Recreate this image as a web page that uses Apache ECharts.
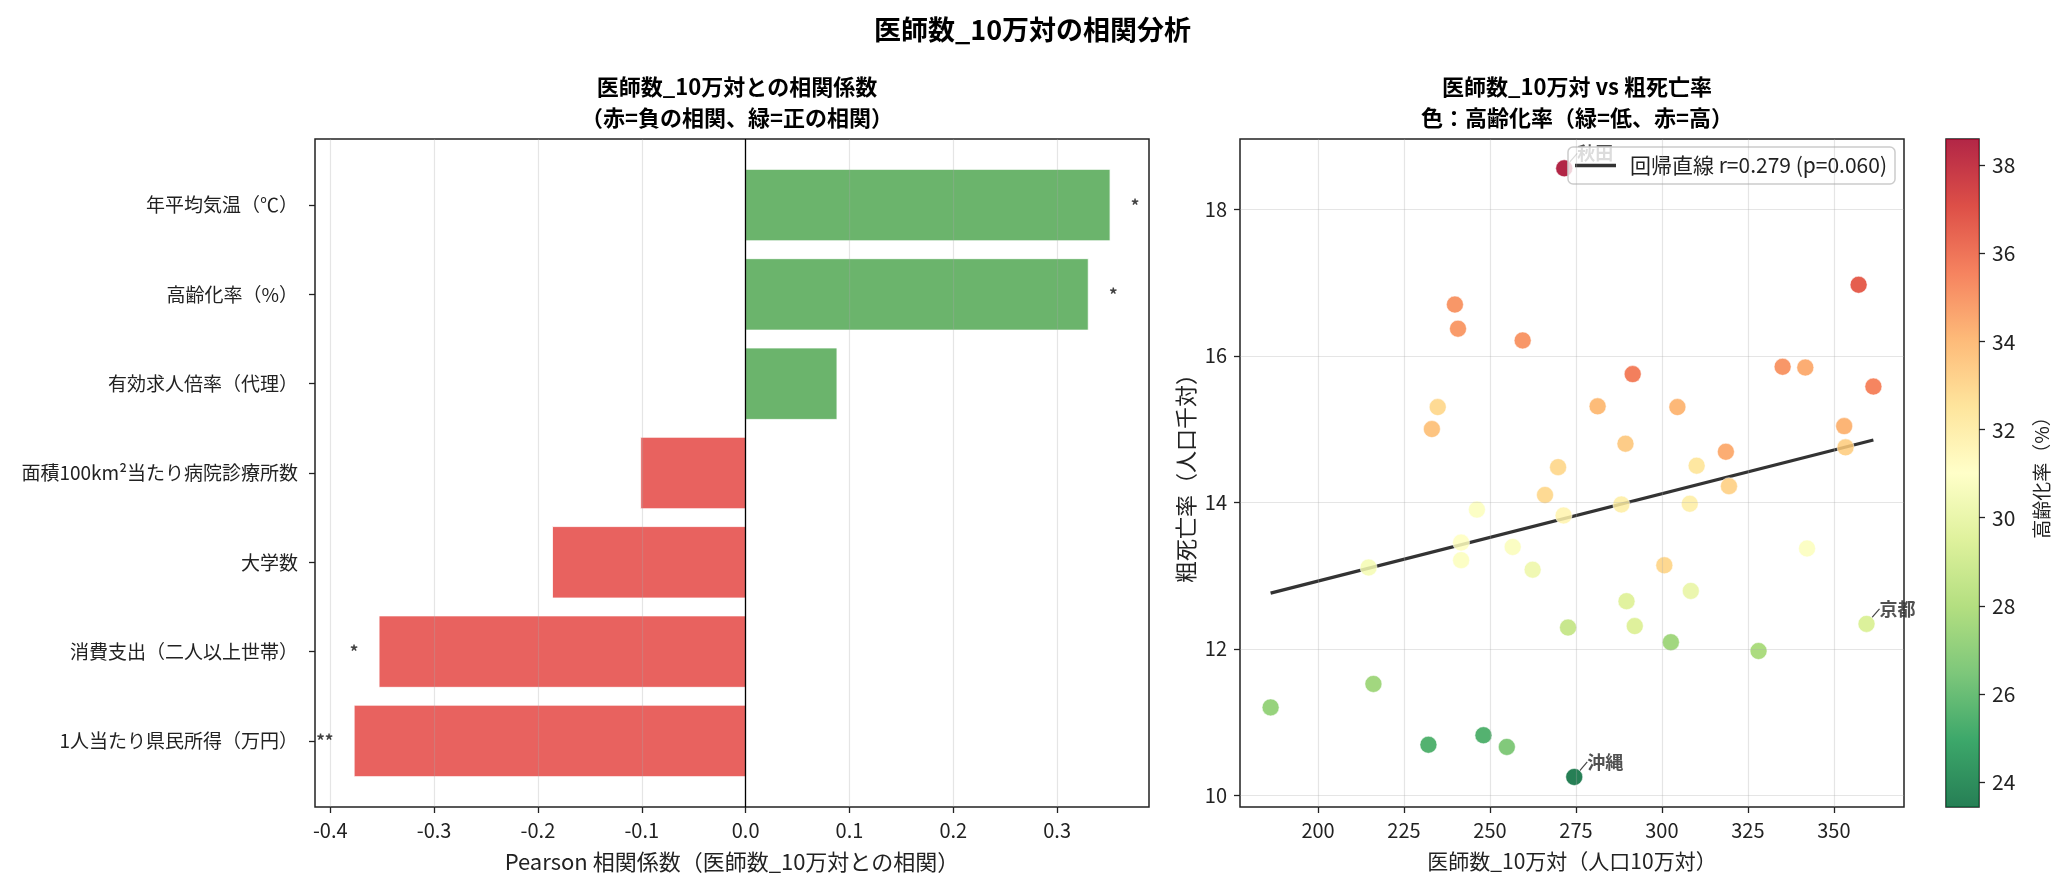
<!DOCTYPE html>
<html>
<head>
<meta charset="UTF-8">
<title>医師数_10万対の相関分析</title>
<style>
  html, body { margin: 0; padding: 0; background: #fff; }
  #chart { width: 2065px; height: 889px; }
</style>
</head>
<body>
<div id="chart"></div>
<script src="https://cdn.jsdelivr.net/npm/echarts@6/dist/echarts.min.js"></script>
<script>
// 左：相関係数（下から上の順）
var categories = ['1人当たり県民所得（万円）', '消費支出（二人以上世帯）', '大学数', '面積100km²当たり病院診療所数', '有効求人倍率（代理）', '高齢化率（%）', '年平均気温（℃）'];
var corrValues = [-0.377, -0.353, -0.186, -0.101, 0.088, 0.330, 0.351];
var sigMarks = ['**', '*', '', '', '', '*', '*'];
var corrTicks = [-0.4, -0.3, -0.2, -0.1, 0.0, 0.1, 0.2, 0.3];

// 右：散布図（医師数_10万対, 粗死亡率, 高齢化率）
var doctors = [271.6, 239.8, 240.7, 259.5, 234.8, 233.1, 269.8, 357.2, 291.5, 281.3,
               304.5, 335.1, 341.7, 361.5, 353.0, 353.4, 289.4, 318.6, 310.1, 266.0,
               246.2, 271.4, 241.6, 241.6, 214.7, 256.6, 262.4, 272.7, 216.1, 186.2,
               232.1, 248.1, 254.9, 274.5, 319.5, 308.1, 288.2, 342.2, 300.7, 308.4,
               289.7, 292.1, 302.6, 328.1, 359.5];
var deathRate = [18.56, 16.70, 16.37, 16.21, 15.30, 15.00, 14.48, 16.97, 15.75, 15.31,
                 15.30, 15.85, 15.84, 15.58, 15.04, 14.75, 14.80, 14.69, 14.50, 14.10,
                 13.90, 13.82, 13.45, 13.21, 13.11, 13.39, 13.08, 12.29, 11.52, 11.20,
                 10.69, 10.82, 10.66, 10.25, 14.22, 13.98, 13.97, 13.37, 13.14, 12.79,
                 12.65, 12.31, 12.09, 11.97, 12.34];
var agingRate = [38.6, 35.0, 34.9, 35.0, 32.9, 33.7, 32.9, 36.6, 35.7, 34.0,
                 34.1, 35.0, 34.4, 35.5, 34.2, 33.2, 33.4, 34.4, 32.4, 32.9,
                 30.9, 31.6, 31.0, 30.9, 30.6, 30.8, 30.3, 28.7, 27.5, 27.2,
                 25.5, 25.5, 26.6, 23.43, 33.1, 31.9, 31.9, 30.9, 33.0, 30.1,
                 29.6, 29.5, 27.5, 27.8, 29.4];
var pointNames = ['秋田', '', '', '', '', '', '', '', '', '',
                  '', '', '', '', '', '', '', '', '', '',
                  '', '', '', '', '', '', '', '', '', '',
                  '', '', '', '沖縄', '', '', '', '', '', '',
                  '', '', '', '', '京都'];
var lineX = [186.2, 361.5];
var lineY = [12.76, 14.85];
var lineName = '回帰直線 r=0.279 (p=0.060)';
var doctorTicks = [200, 225, 250, 275, 300, 325, 350];
var deathTicks = [10, 12, 14, 16, 18];
var agingTicks = [24, 26, 28, 30, 32, 34, 36, 38];
var agingMin = 23.43, agingMax = 38.6;

// RdYlGn_r
var rdylgnR = ['#006837', '#1a9850', '#66bd63', '#a6d96a', '#d9ef8b', '#ffffbf',
               '#fee08b', '#fdae61', '#f46d43', '#d73027', '#a50026'];

var FONT = '"Noto Sans CJK JP", "Noto Sans", sans-serif';
var gridLineColor = 'rgba(170,170,170,0.3)';

function gridMark(axisKey, values) {
    return values.map(function (v) {
        var d = {}; d[axisKey] = v; return d;
    });
}

var chart = echarts.init(document.getElementById('chart'), null, {renderer: 'canvas'});

var option = {
    backgroundColor: '#fff',
    animation: false,
    textStyle: {fontFamily: FONT},
    title: [
        {text: '医師数_10万対の相関分析', left: 'center', top: 11,
         textStyle: {fontSize: 27, fontWeight: 'bold', color: '#000', fontFamily: FONT}},
        {text: '医師数_10万対との相関係数\n（赤=負の相関、緑=正の相関）', left: 732, top: 66, textAlign: 'center',
         textStyle: {fontSize: 22, fontWeight: 'bold', color: '#000', lineHeight: 31, fontFamily: FONT}},
        {text: '医師数_10万対 vs 粗死亡率\n色：高齢化率（緑=低、赤=高）', left: 1572, top: 66, textAlign: 'center',
         textStyle: {fontSize: 22, fontWeight: 'bold', color: '#000', lineHeight: 31, fontFamily: FONT}}
    ],
    legend: {
        data: [{name: lineName, icon: 'rect'}],
        right: 170, top: 147,
        orient: 'vertical',
        backgroundColor: 'rgba(255,255,255,0.8)',
        borderColor: '#cccccc', borderWidth: 1.5, borderRadius: 5,
        padding: [8, 8, 8, 7],
        itemWidth: 41, itemHeight: 3.5,
        textStyle: {fontSize: 21, color: '#222', fontFamily: FONT, padding: [0, 0, 0, 9]}
    },
    visualMap: {
        show: false, type: 'continuous', seriesIndex: 3, dimension: 2,
        min: agingMin, max: agingMax,
        inRange: {color: rdylgnR}
    },
    grid: [
        {left: 315, top: 139, width: 834, height: 668, show: true, borderColor: '#222', borderWidth: 1.5,
         containLabel: false, outerBoundsMode: 'none'},
        {left: 1240, top: 139, width: 664, height: 668, show: true, borderColor: '#222', borderWidth: 1.5,
         containLabel: false, outerBoundsMode: 'none'},
        {left: 1946, top: 139, width: 33, height: 668, show: true, borderColor: '#222', borderWidth: 1.5,
         containLabel: false, outerBoundsMode: 'none'}
    ],
    xAxis: [
        {type: 'value', gridIndex: 0, min: -0.4147, max: 0.3885,
         axisLine: {show: false, onZero: false},
         axisTick: {show: true, customValues: corrTicks, length: 6, lineStyle: {color: '#222', width: 1.3}},
         axisLabel: {customValues: corrTicks, fontSize: 20, color: '#222', margin: 13,
                     formatter: function (v) { return v.toFixed(1); }},
         splitLine: {show: false},
         name: 'Pearson 相関係数（医師数_10万対との相関）', nameLocation: 'middle', nameGap: 44,
         nameTextStyle: {fontSize: 22, color: '#222'}},
        {type: 'value', gridIndex: 1, min: 177.3, max: 370.4,
         axisLine: {show: false, onZero: false},
         axisTick: {show: true, customValues: doctorTicks, length: 6, lineStyle: {color: '#222', width: 1.3}},
         axisLabel: {customValues: doctorTicks, fontSize: 20, color: '#222', margin: 13},
         splitLine: {show: false},
         name: '医師数_10万対（人口10万対）', nameLocation: 'middle', nameGap: 44,
         nameTextStyle: {fontSize: 21, color: '#222'}},
        {type: 'value', gridIndex: 2, min: 0, max: 1, show: false}
    ],
    yAxis: [
        {type: 'value', gridIndex: 0, min: -0.74, max: 6.74,
         axisLine: {show: false, onZero: false},
         axisTick: {show: true, customValues: [0, 1, 2, 3, 4, 5, 6], length: 6, lineStyle: {color: '#222', width: 1.3}},
         axisLabel: {customValues: [0, 1, 2, 3, 4, 5, 6], fontSize: 19, color: '#222', margin: 17,
                     formatter: function (v) { return categories[Math.round(v)]; }},
         splitLine: {show: false}},
        {type: 'value', gridIndex: 1, min: 9.84, max: 18.96,
         axisLine: {show: false, onZero: false},
         axisTick: {show: true, customValues: deathTicks, length: 6, lineStyle: {color: '#222', width: 1.3}},
         axisLabel: {customValues: deathTicks, fontSize: 20, color: '#222', margin: 13},
         splitLine: {show: false},
         name: '粗死亡率（人口千対）', nameLocation: 'middle', nameGap: 43,
         nameTextStyle: {fontSize: 22, color: '#222'}},
        {type: 'value', gridIndex: 2, position: 'right', min: agingMin, max: agingMax,
         axisLine: {show: false, onZero: false},
         axisTick: {show: true, customValues: agingTicks, length: 6, lineStyle: {color: '#222', width: 1.3}},
         axisLabel: {customValues: agingTicks, fontSize: 21, color: '#222', margin: 13},
         splitLine: {show: false},
         name: '高齢化率（%）', nameLocation: 'middle', nameGap: 53, nameRotate: 90,
         nameTextStyle: {fontSize: 19, color: '#222'}}
    ],
    series: [
        // 相関係数の横棒
        {
            type: 'custom', xAxisIndex: 0, yAxisIndex: 0, z: 2,
            data: corrValues.map(function (v, i) { return [v, i]; }),
            encode: {x: 0, y: 1},
            renderItem: function (params, api) {
                var v = api.value(0), i = api.value(1);
                var a = api.coord([0, i - 0.4]);
                var b = api.coord([v, i + 0.4]);
                return {
                    type: 'rect',
                    shape: {x: Math.min(a[0], b[0]), y: Math.min(a[1], b[1]),
                            width: Math.abs(b[0] - a[0]), height: Math.abs(b[1] - a[1])},
                    style: {fill: v < 0 ? '#e8625f' : '#6bb46c', stroke: 'rgba(255,255,255,0.8)', lineWidth: 1}
                };
            },
            markLine: {
                silent: true, symbol: ['none', 'none'], label: {show: false}, z: 5,
                data: gridMark('xAxis', corrTicks).map(function (d) {
                    d.lineStyle = {color: gridLineColor, width: 1.2, type: 'solid'}; return d;
                }).concat([{xAxis: 0, lineStyle: {color: '#000', width: 1.3, type: 'solid'}}])
            }
        },
        // 有意差マーク
        {
            type: 'scatter', xAxisIndex: 0, yAxisIndex: 0, symbolSize: 0, z: 6,
            data: corrValues.map(function (v, i) {
                return {
                    value: [v + (v > 0 ? 0.02 : -0.02), i],
                    label: {show: sigMarks[i] !== '', formatter: sigMarks[i],
                            position: v > 0 ? 'right' : 'left', distance: 0}
                };
            }),
            label: {fontSize: 17, fontWeight: 'bold', color: '#111'}
        },
        // 回帰直線
        {
            type: 'line', name: lineName, xAxisIndex: 1, yAxisIndex: 1, z: 2,
            data: [[lineX[0], lineY[0]], [lineX[1], lineY[1]]],
            symbol: 'none', showSymbol: false,
            lineStyle: {color: '#333', width: 3.2},
            itemStyle: {color: '#333'},
            markLine: {
                silent: true, symbol: ['none', 'none'], label: {show: false},
                lineStyle: {color: gridLineColor, width: 1.2, type: 'solid'},
                data: gridMark('xAxis', doctorTicks).concat(gridMark('yAxis', deathTicks))
            }
        },
        // 散布図
        {
            type: 'scatter', xAxisIndex: 1, yAxisIndex: 1, z: 3,
            symbolSize: 17,
            itemStyle: {opacity: 0.85, borderColor: '#fff', borderWidth: 0.6},
            labelLayout: function (p) {
                return pointNames[p.dataIndex] ? {dx: 13, dy: -15} : {};
            },
            labelLine: {show: true, length2: 0, lineStyle: {color: '#444', width: 1.2}},
            data: doctors.map(function (x, i) {
                var d = {value: [x, deathRate[i], agingRate[i]]};
                if (pointNames[i]) {
                    d.label = {show: true, formatter: pointNames[i], position: 'inside', align: 'left',
                               fontSize: 18, fontWeight: 'bold', color: '#333'};
                }
                return d;
            })
        },
        // カラーバー
        {
            type: 'custom', xAxisIndex: 2, yAxisIndex: 2, z: 1,
            data: [[0, agingMin]],
            renderItem: function (params, api) {
                var a = api.coord([0, agingMin]);
                var b = api.coord([1, agingMax]);
                var stops = rdylgnR.map(function (c, k) { return {offset: k / (rdylgnR.length - 1), color: c}; });
                return {
                    type: 'rect',
                    shape: {x: a[0], y: b[1], width: b[0] - a[0], height: a[1] - b[1]},
                    style: {fill: new echarts.graphic.LinearGradient(0, 1, 0, 0, stops), opacity: 0.85}
                };
            }
        }
    ]
};

chart.setOption(option);
</script>
</body>
</html>
